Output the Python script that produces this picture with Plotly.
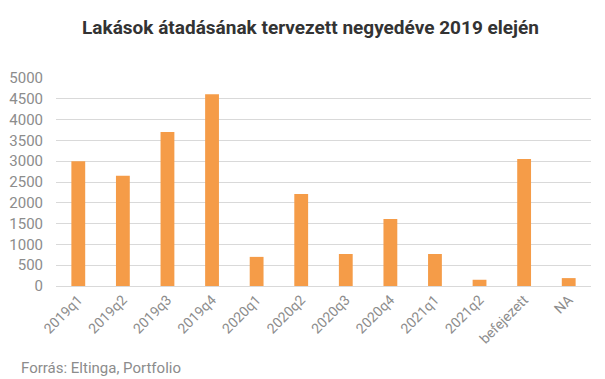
import plotly.graph_objects as go

categories = ["2019q1", "2019q2", "2019q3", "2019q4", "2020q1", "2020q2",
              "2020q3", "2020q4", "2021q1", "2021q2", "befejezett", "NA"]
values = [3000, 2650, 3700, 4610, 700, 2210, 770, 1610, 770, 150, 3050, 190]
y_ticks = [0, 500, 1000, 1500, 2000, 2500, 3000, 3500, 4000, 4500, 5000]

title_text = "Lakások átadásának tervezett negyedéve 2019 elején"
source_text = "Forrás: Eltinga, Portfolio"

fig = go.Figure(go.Bar(x=categories, y=values, marker_color="#F59C48",
                       marker_line_width=0))

fig.update_layout(
    width=605, height=379,
    margin=dict(l=48, r=22, t=70, b=101, autoexpand=False),
    paper_bgcolor="white", plot_bgcolor="white",
    font=dict(family="Roboto", color="#8c8c8c", size=14),
    bargap=0.69,
    showlegend=False,
    title=dict(text="<b>" + title_text + "</b>", x=0.5, xanchor="center",
               y=0.95, yanchor="middle",
               font=dict(family="Roboto", size=19, color="#333333")),
    xaxis=dict(tickangle=-45, showgrid=False, showline=False, ticks="",
               automargin=False, ticklabelstandoff=2,
               tickfont=dict(size=14, color="#8c8c8c")),
    yaxis=dict(range=[0, 5000], tickvals=y_ticks, showgrid=True,
               gridcolor="#d9d9d9", gridwidth=1, zeroline=True,
               zerolinecolor="#d9d9d9", zerolinewidth=1, ticks="",
               automargin=False, ticklabelstandoff=12,
               tickfont=dict(size=15, color="#8c8c8c")),
    annotations=[dict(text=source_text, xref="paper", yref="paper",
                      x=-0.069, y=-0.394, xanchor="left", yanchor="middle",
                      showarrow=False,
                      font=dict(family="Roboto", size=15, color="#8c8c8c"))],
)

fig.write_html("out.html")
